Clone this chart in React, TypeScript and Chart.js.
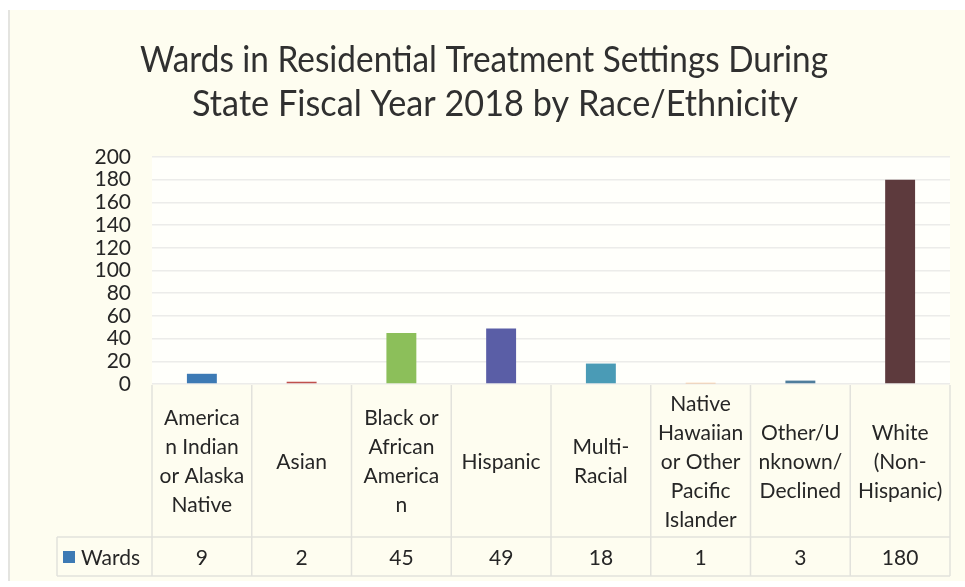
import React, { useEffect, useRef } from "react";
import { Chart, registerables } from "chart.js";

Chart.register(...registerables);

const titleLines = [
  "Wards in Residential Treatment Settings During",
  "State Fiscal Year 2018 by Race/Ethnicity",
];
const categories: string[][] = [
  ["America", "n Indian", "or Alaska", "Native"],
  ["Asian"],
  ["Black or", "African", "America", "n"],
  ["Hispanic"],
  ["Multi-", "Racial"],
  ["Native", "Hawaiian", "or Other", "Pacific", "Islander"],
  ["Other/U", "nknown/", "Declined"],
  ["White", "(Non-", "Hispanic)"],
];
const seriesName = "Wards";
const wards = [9, 2, 45, 49, 18, 1, 3, 180];
const barColors = [
  "#3d7ab4",
  "#c0504d",
  "#8cbf5a",
  "#5a5ea6",
  "#4a9bb6",
  "#f79646",
  "#4f7d9c",
  "#5d3a3d",
];
const yMin = 0;
const yMax = 200;
const yStep = 20;

const FONT = "Lato, 'Open Sans', sans-serif";
const TEXT = "#262626";

const tablePlugin = {
  id: "tablePlugin",
  beforeDraw(chart: any) {
    const { ctx, width, height, chartArea } = chart;
    ctx.save();
    ctx.fillStyle = "#ffffff";
    ctx.fillRect(0, 0, width, height);
    ctx.fillStyle = "#fefdf0";
    ctx.fillRect(9, 10, width - 9, height - 16);
    ctx.fillStyle = "#fffffb";
    ctx.fillRect(chartArea.left, chartArea.top, chartArea.right - chartArea.left, chartArea.bottom - chartArea.top);
    ctx.strokeStyle = "#e4e4e0";
    ctx.lineWidth = 2;
    ctx.beginPath();
    ctx.moveTo(9, 10);
    ctx.lineTo(9, height - 6);
    ctx.stroke();
    ctx.restore();
  },
  afterDraw(chart: any) {
    const { ctx, chartArea } = chart;
    const xs = chart.scales.x;
    const n = categories.length;
    const colW = (chartArea.right - chartArea.left) / n;
    const top = chartArea.bottom + 1;
    const rowSep = 537;
    const bottom = 576;
    const legLeft = 57;
    ctx.save();
    ctx.strokeStyle = "#e2e2dc";
    ctx.lineWidth = 1.5;
    ctx.beginPath();
    for (let i = 0; i <= n; i++) {
      const x = chartArea.left + i * colW;
      ctx.moveTo(x, top);
      ctx.lineTo(x, bottom);
    }
    ctx.moveTo(legLeft, rowSep);
    ctx.lineTo(chartArea.right, rowSep);
    ctx.moveTo(legLeft, bottom);
    ctx.lineTo(chartArea.right, bottom);
    ctx.moveTo(legLeft, rowSep);
    ctx.lineTo(legLeft, bottom);
    ctx.stroke();

    ctx.fillStyle = TEXT;
    ctx.font = `21px ${FONT}`;
    ctx.textAlign = "center";
    ctx.textBaseline = "middle";
    const lh = 29;
    const midY = 462;
    categories.forEach((lines, i) => {
      const cx = xs.getPixelForValue(i);
      const y0 = midY - ((lines.length - 1) * lh) / 2;
      lines.forEach((t, j) => ctx.fillText(t, cx, y0 + j * lh));
    });
    const valY = 558;
    wards.forEach((v, i) => {
      ctx.fillText(String(v), xs.getPixelForValue(i), valY);
    });
    ctx.fillStyle = barColors[0];
    ctx.fillRect(63, 551, 12, 12);
    ctx.fillStyle = TEXT;
    ctx.textAlign = "left";
    ctx.fillText(seriesName, 81, valY);

    ctx.font = `36px ${FONT}`;
    ctx.textAlign = "center";
    ctx.textBaseline = "alphabetic";
    ctx.fillStyle = "#303030";
    ctx.fillText(titleLines[0], 484, 72, 688);
    ctx.fillText(titleLines[1], 495, 116, 606);
    ctx.restore();
  },
};

export default function App() {
  const ref = useRef<HTMLCanvasElement | null>(null);
  useEffect(() => {
    document.body.style.margin = "0";
    const canvas = ref.current;
    if (!canvas) return;
    const chart = new Chart(canvas, {
      type: "bar",
      data: {
        labels: categories.map((c) => c.join(" ")),
        datasets: [
          {
            label: seriesName,
            data: wards,
            backgroundColor: barColors,
            borderColor: barColors,
            borderWidth: 0,
            barPercentage: 0.6,
            categoryPercentage: 0.5,
          },
        ],
      },
      options: {
        responsive: false,
        animation: false,
        layout: { padding: { left: 0, right: 15, top: 157, bottom: 203 } },
        plugins: {
          legend: { display: false },
          title: { display: false },
          tooltip: { enabled: false },
        },
        scales: {
          x: { display: false },
          y: {
            min: yMin,
            max: yMax,
            ticks: {
              stepSize: yStep,
              autoSkip: false,
              color: TEXT,
              font: { family: FONT, size: 21, lineHeight: 1 },
              padding: 21,
            },
            grid: { color: "#ececea", drawTicks: false, lineWidth: 1.5 },
            border: { display: false },
            afterFit: (scale: any) => {
              scale.width = 152;
            },
          },
        },
      },
      plugins: [tablePlugin],
    });
    return () => chart.destroy();
  }, []);
  return <canvas ref={ref} width={965} height={587} style={{ display: "block" }} />;
}
